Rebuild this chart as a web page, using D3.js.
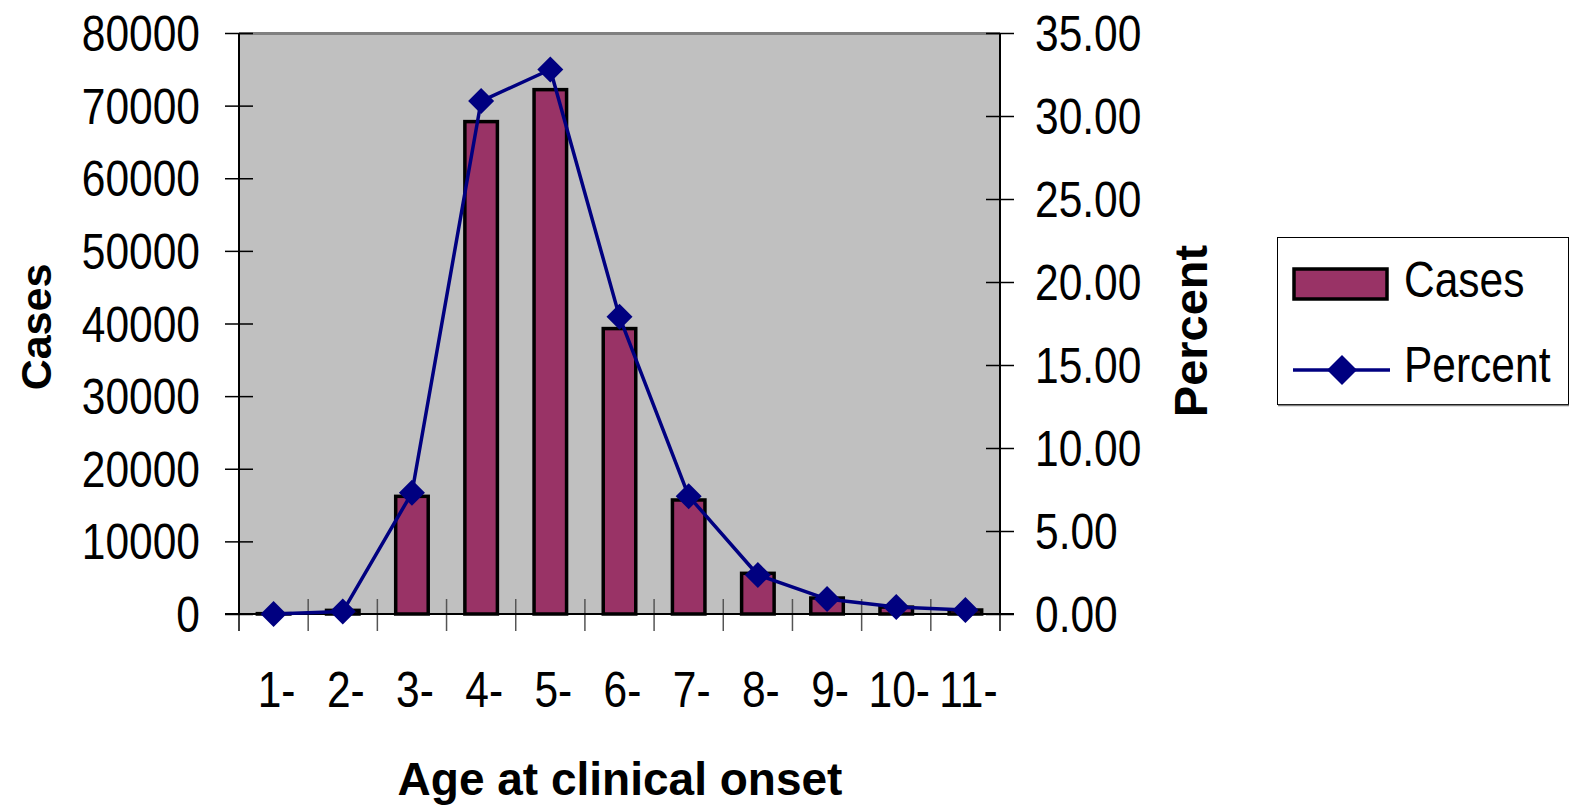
<!DOCTYPE html>
<html>
<head>
<meta charset="utf-8">
<script src="https://cdn.jsdelivr.net/npm/d3@7"></script>
<style>
  html, body { margin: 0; padding: 0; background: #ffffff; }
  svg { display: block; }
</style>
</head>
<body>
<svg id="chart" width="1576" height="807"></svg>
<script>
const categories = ["1-", "2-", "3-", "4-", "5-", "6-", "7-", "8-", "9-", "10-", "11-"];
const cases = [50, 500, 16200, 67800, 72200, 39300, 15700, 5600, 2200, 950, 550];
const percent = [0.0, 0.15, 7.3, 30.9, 32.8, 17.9, 7.1, 2.35, 0.9, 0.42, 0.24];
const leftTicks = [0, 10000, 20000, 30000, 40000, 50000, 60000, 70000, 80000];
const rightTicks = [0, 5, 10, 15, 20, 25, 30, 35];

const svg = d3.select("#chart");
const X0 = 239, X1 = 1000, Y0 = 33, Y1 = 614;
const regFont = "'Liberation Sans', Arial, sans-serif";
const boldFont = "'Liberation Sans', Arial, sans-serif";
const SX = 0.85, FS = 50;

const x = d3.scaleBand().domain(categories).range([X0, X1]).padding(0);
const yL = d3.scaleLinear().domain([0, 80000]).range([Y1, Y0]);
const yR = d3.scaleLinear().domain([0, 35]).range([Y1, Y0]);

function label(parent, tx, ty, anchor, str, dy) {
  const g = parent.append("g").attr("transform", `translate(${tx},${ty})`);
  g.append("text").attr("transform", `scale(${SX},1)`)
    .attr("text-anchor", anchor).attr("dy", dy || 0)
    .attr("font-family", regFont).attr("font-size", FS).attr("fill", "#000")
    .text(str);
  return g;
}

const diamond = {
  draw(ctx, r) { ctx.moveTo(0, -r); ctx.lineTo(r, 0); ctx.lineTo(0, r); ctx.lineTo(-r, 0); ctx.closePath(); }
};

// plot area
svg.append("rect").attr("x", X0).attr("y", Y0).attr("width", X1 - X0).attr("height", Y1 - Y0)
  .attr("fill", "#c0c0c0");
svg.append("line").attr("x1", X0).attr("x2", X1).attr("y1", Y0 + 0.5).attr("y2", Y0 + 0.5)
  .attr("stroke", "#808080").attr("stroke-width", 3);

// bars
const bw = x.bandwidth() * 0.47;
svg.append("g").selectAll("rect").data(categories).join("rect")
  .attr("x", d => x(d) + (x.bandwidth() - bw) / 2)
  .attr("y", (d, i) => yL(cases[i]))
  .attr("width", bw)
  .attr("height", (d, i) => Y1 - yL(cases[i]))
  .attr("fill", "#993366")
  .attr("stroke", "#000000")
  .attr("stroke-width", 3.5);

// left axis ticks (via d3 axis) and manual labels
const gL = svg.append("g").attr("transform", `translate(${X0},0)`)
  .call(d3.axisLeft(yL).tickValues(leftTicks).tickSize(14).tickFormat(""));
gL.select(".domain").remove();
gL.selectAll(".tick line").attr("x2", -14).attr("x1", 14).attr("stroke", "#000").attr("stroke-width", 1.5);
const fmtL = d3.format("d");
leftTicks.forEach(v => label(svg, 200, yL(v), "end", fmtL(v), "0.36em"));
svg.append("line").attr("x1", X0).attr("x2", X0).attr("y1", Y0).attr("y2", Y1).attr("stroke", "#000").attr("stroke-width", 2);

// right axis
const gR = svg.append("g").attr("transform", `translate(${X1},0)`)
  .call(d3.axisRight(yR).tickValues(rightTicks).tickSize(14).tickFormat(""));
gR.select(".domain").remove();
gR.selectAll(".tick line").attr("x1", -14).attr("x2", 14).attr("stroke", "#000").attr("stroke-width", 1.5);
const fmtR = d3.format(".2f");
rightTicks.forEach(v => label(svg, 1035, yR(v), "start", fmtR(v), "0.36em"));
svg.append("line").attr("x1", X1).attr("x2", X1).attr("y1", Y0).attr("y2", Y1).attr("stroke", "#000").attr("stroke-width", 2);

// bottom axis
const boundaries = categories.map(c => x(c)).concat([X1]);
svg.append("g").selectAll("line").data(boundaries).join("line")
  .attr("x1", d => d).attr("x2", d => d).attr("y1", Y1 - 15).attr("y2", Y1 + 17)
  .attr("stroke", (d, i) => (i === 0 || i === boundaries.length - 1) ? "#000" : "#555").attr("stroke-width", 1.5);
svg.append("line").attr("x1", X0 - 14).attr("x2", X1 + 14).attr("y1", Y1).attr("y2", Y1).attr("stroke", "#000").attr("stroke-width", 2);
categories.forEach(c => label(svg, x(c) + x.bandwidth() / 2 + 3, 707, "middle", c));

// line + markers
const line = d3.line().x((d, i) => x(categories[i]) + x.bandwidth() / 2).y(d => yR(d));
svg.append("path").datum(percent).attr("d", line).attr("fill", "none")
  .attr("stroke", "#000080").attr("stroke-width", 3.5).attr("stroke-linejoin", "round");
svg.append("g").selectAll("path").data(percent).join("path")
  .attr("transform", (d, i) => `translate(${x(categories[i]) + x.bandwidth() / 2},${yR(d)})`)
  .attr("d", d3.symbol().type(diamond).size(13))
  .attr("fill", "#000080");

// axis titles
svg.append("text").attr("transform", "translate(51,327) rotate(-90)")
  .attr("text-anchor", "middle").attr("font-family", boldFont).attr("font-weight", "bold")
  .attr("font-size", 43).attr("fill", "#000").text("Cases");
svg.append("text").attr("transform", "translate(1207,331) rotate(-90)")
  .attr("text-anchor", "middle").attr("font-family", boldFont).attr("font-weight", "bold")
  .attr("font-size", 47).attr("fill", "#000").text("Percent");
svg.append("text").attr("x", 620).attr("y", 795)
  .attr("text-anchor", "middle").attr("font-family", boldFont).attr("font-weight", "bold")
  .attr("font-size", 46).attr("fill", "#000").text("Age at clinical onset");

// legend
const lg = svg.append("g");
lg.append("rect").attr("x", 1277.5).attr("y", 237.5).attr("width", 291).attr("height", 167)
  .attr("fill", "#fff").attr("stroke", "#000").attr("stroke-width", 1);
lg.append("line").attr("x1", 1278).attr("x2", 1569).attr("y1", 405.5).attr("y2", 405.5)
  .attr("stroke", "#808080").attr("stroke-width", 1.5);
lg.append("rect").attr("x", 1294).attr("y", 269).attr("width", 93).attr("height", 30)
  .attr("fill", "#993366").attr("stroke", "#000").attr("stroke-width", 3.5);
label(lg, 1404, 297, "start", "Cases");
lg.append("line").attr("x1", 1293).attr("x2", 1390).attr("y1", 370).attr("y2", 370)
  .attr("stroke", "#000080").attr("stroke-width", 3.5);
lg.append("path").attr("transform", "translate(1342,370)")
  .attr("d", d3.symbol().type(diamond).size(15)).attr("fill", "#000080");
label(lg, 1404, 382, "start", "Percent");
</script>
</body>
</html>
